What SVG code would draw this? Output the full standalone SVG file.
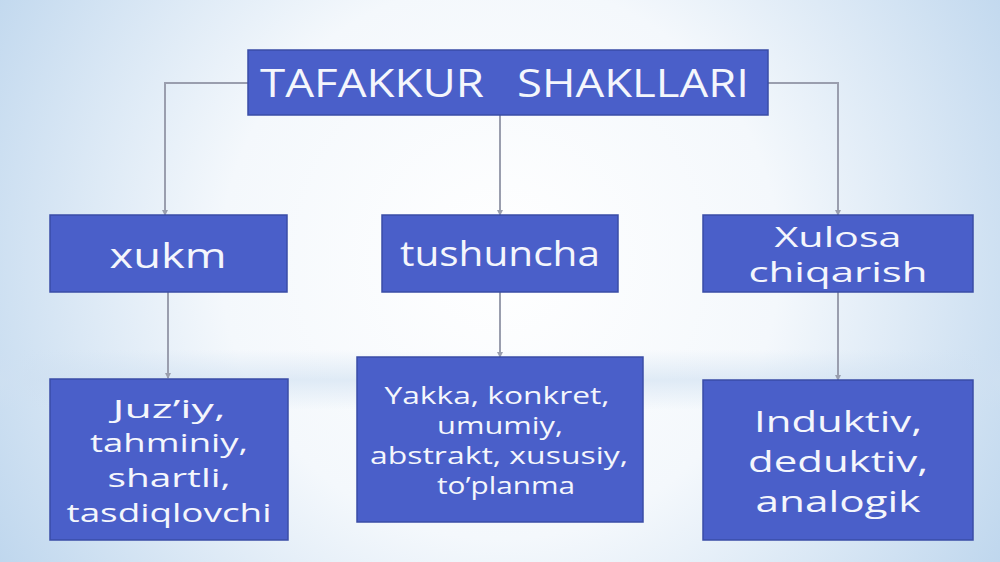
<svg xmlns="http://www.w3.org/2000/svg" width="1000" height="562" viewBox="0 0 1000 562">
<defs>
<radialGradient id="bg" cx="500" cy="260" r="620" gradientUnits="userSpaceOnUse">
<stop offset="0" stop-color="#ffffff"/>
<stop offset="0.45" stop-color="#f4f8fc"/>
<stop offset="1" stop-color="#b9d3ec"/>
</radialGradient>
<linearGradient id="band" x1="0" y1="0" x2="0" y2="1">
<stop offset="0" stop-color="#cfe0f1" stop-opacity="0"/>
<stop offset="0.5" stop-color="#cfe0f1" stop-opacity="0.6"/>
<stop offset="1" stop-color="#cfe0f1" stop-opacity="0"/>
</linearGradient>
<marker id="arr" viewBox="0 0 6 6" refX="5" refY="3" markerWidth="6" markerHeight="6" markerUnits="userSpaceOnUse" orient="auto">
<path d="M0,0 L6,3 L0,6 z" fill="#9a9eae"/>
</marker>
<style>
.box{fill:#4a5fc9;stroke:#3a4ca6;stroke-width:1.5}
.t{font-family:"Open Sans","Liberation Sans",sans-serif;fill:#f4f6fc;text-anchor:middle}
.c{fill:none;stroke:#9a9eae;stroke-width:2}
</style>
</defs>
<rect x="0" y="0" width="1000" height="562" fill="url(#bg)"/>
<rect x="0" y="350" width="1000" height="60" fill="url(#band)"/>

<g id="connectors">
<polyline class="c" points="248,83 165,83 165,215" marker-end="url(#arr)"/>
<polyline class="c" points="768,83 838,83 838,215" marker-end="url(#arr)"/>
<line class="c" x1="500" y1="115" x2="500" y2="215" marker-end="url(#arr)"/>
<line class="c" x1="168" y1="292" x2="168" y2="378" marker-end="url(#arr)"/>
<line class="c" x1="500" y1="292" x2="500" y2="357" marker-end="url(#arr)"/>
<line class="c" x1="838" y1="292" x2="838" y2="380" marker-end="url(#arr)"/>
</g>

<g id="title">
<rect class="box" x="248" y="50" width="520" height="65"/>
<text class="t" x="372" y="97" font-size="38" textLength="224" lengthAdjust="spacingAndGlyphs">TAFAKKUR</text>
<text class="t" x="633" y="97" font-size="38" textLength="232" lengthAdjust="spacingAndGlyphs">SHAKLLARI</text>
</g>

<g id="xukm">
<rect class="box" x="50" y="215" width="237" height="77"/>
<text class="t" x="168" y="268" font-size="34" textLength="117" lengthAdjust="spacingAndGlyphs">xukm</text>
</g>

<g id="tushuncha">
<rect class="box" x="382" y="215" width="236" height="77"/>
<text class="t" x="500" y="266" font-size="34" textLength="200" lengthAdjust="spacingAndGlyphs">tushuncha</text>
</g>

<g id="xulosa">
<rect class="box" x="703" y="215" width="270" height="77"/>
<text class="t" x="838" y="247" font-size="27" textLength="127" lengthAdjust="spacingAndGlyphs">Xulosa</text>
<text class="t" x="838" y="282" font-size="27" textLength="179" lengthAdjust="spacingAndGlyphs">chiqarish</text>
</g>

<g id="hukm-turlari">
<rect class="box" x="50" y="379" width="238" height="161"/>
<text class="t" x="169" y="418" font-size="26" textLength="113" lengthAdjust="spacingAndGlyphs">Juz’iy,</text>
<text class="t" x="169" y="452" font-size="26" textLength="158" lengthAdjust="spacingAndGlyphs">tahminiy,</text>
<text class="t" x="169" y="487" font-size="26" textLength="123" lengthAdjust="spacingAndGlyphs">shartli,</text>
<text class="t" x="169" y="522" font-size="26" textLength="205" lengthAdjust="spacingAndGlyphs">tasdiqlovchi</text>
</g>

<g id="tushuncha-turlari">
<rect class="box" x="357" y="357" width="286" height="165"/>
<text class="t" x="497" y="404" font-size="23" textLength="225" lengthAdjust="spacingAndGlyphs">Yakka, konkret,</text>
<text class="t" x="500" y="434" font-size="23" textLength="126" lengthAdjust="spacingAndGlyphs">umumiy,</text>
<text class="t" x="499" y="464" font-size="23" textLength="258" lengthAdjust="spacingAndGlyphs">abstrakt, xususiy,</text>
<text class="t" x="506" y="494" font-size="23" textLength="138" lengthAdjust="spacingAndGlyphs">to’planma</text>
</g>

<g id="xulosa-turlari">
<rect class="box" x="703" y="380" width="270" height="160"/>
<text class="t" x="838" y="432" font-size="30" textLength="168" lengthAdjust="spacingAndGlyphs">Induktiv,</text>
<text class="t" x="838" y="472" font-size="30" textLength="180" lengthAdjust="spacingAndGlyphs">deduktiv,</text>
<text class="t" x="838" y="512" font-size="30" textLength="165" lengthAdjust="spacingAndGlyphs">analogik</text>
</g>
</svg>
